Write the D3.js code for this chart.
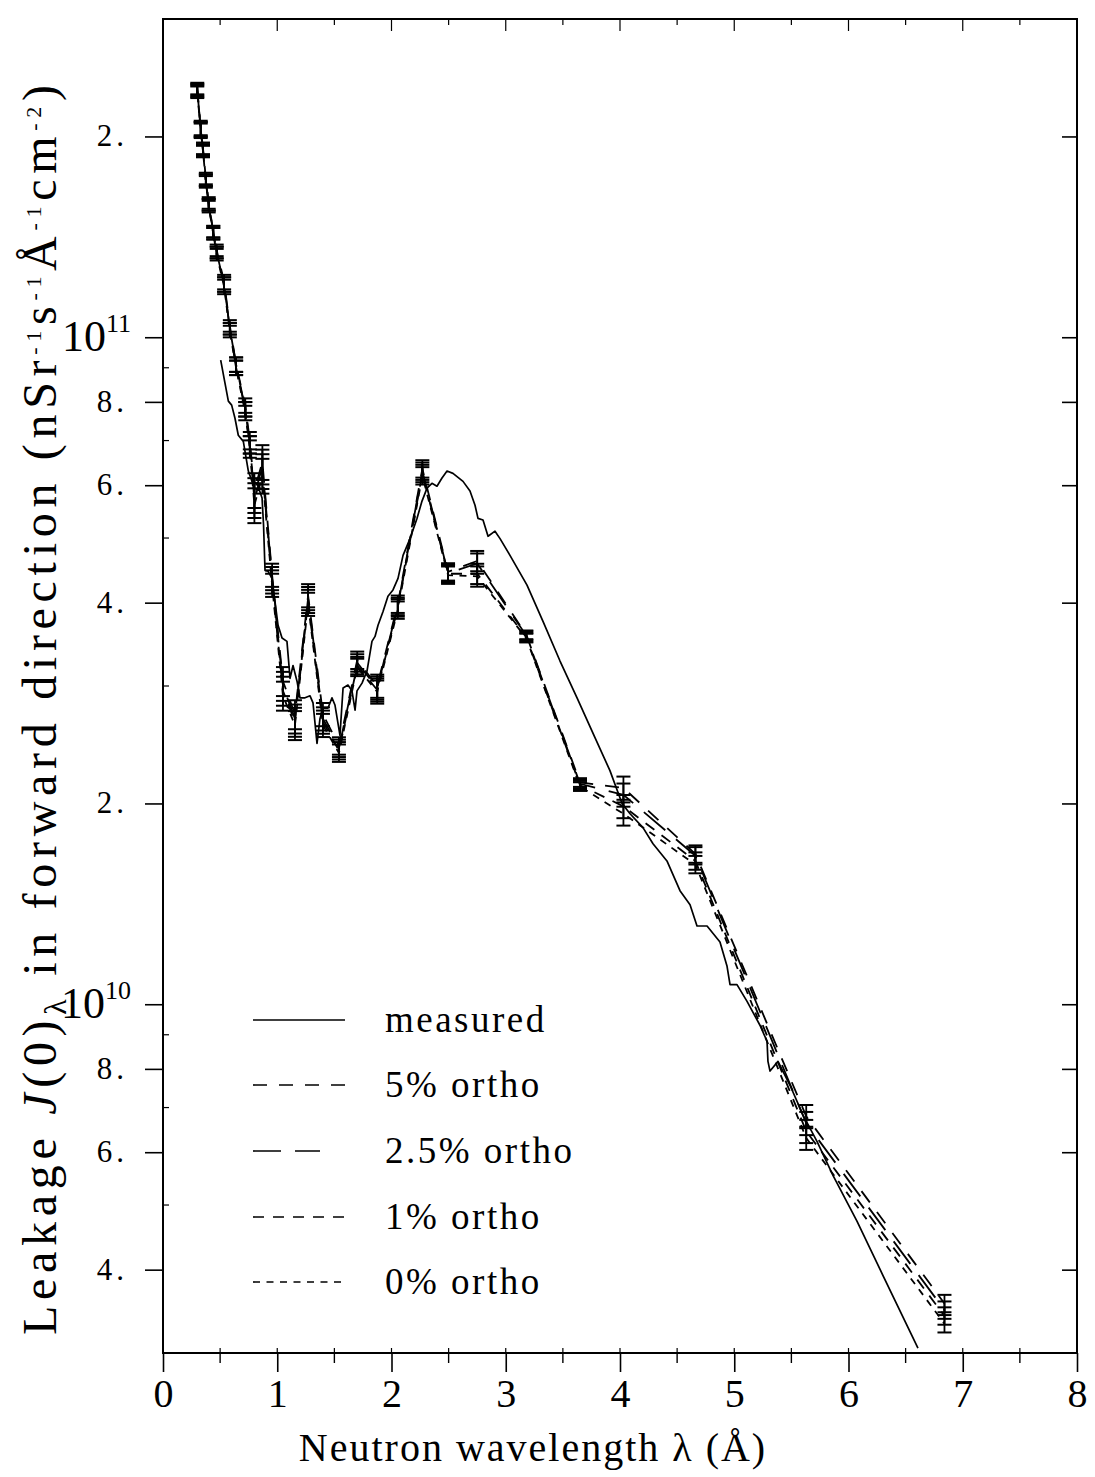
<!DOCTYPE html>
<html>
<head>
<meta charset="utf-8">
<script src="https://cdn.jsdelivr.net/npm/d3@7"></script>
<style>
  body { margin: 0; background: #fff; }
  svg text { font-family: "Liberation Serif", "Times New Roman", serif; fill: #000; }
</style>
</head>
<body>
<div id="chart"></div>
<script>
// values in units of 1e10 n sr^-1 s^-1 A^-1 cm^-2
const lambdaCalc = [0.30, 0.33, 0.35, 0.375, 0.40, 0.44, 0.47, 0.535, 0.585, 0.64,
  0.72, 0.76, 0.80, 0.87, 0.955, 1.05, 1.155, 1.27, 1.40, 1.54,
  1.70, 1.875, 2.055, 2.27, 2.495, 2.75, 3.18, 3.65, 4.03, 4.66,
  5.63, 6.84];
const ortho5 = [23.6, 20.6, 19.2, 17.3, 15.9, 14.4, 13.5, 12.1, 10.4, 9.1,
  7.9, 7.0, 5.9, 6.5, 4.4, 3.05, 2.72, 4.10, 2.72, 2.44,
  3.28, 3.00, 3.98, 6.35, 4.45, 4.62, 3.58, 2.15, 2.11, 1.68,
  0.679, 0.356];
const ortho25 = [23.5, 20.5, 19.1, 17.2, 15.8, 14.4, 13.4, 12.0, 10.3, 9.1,
  7.8, 6.9, 5.8, 6.4, 4.35, 3.0, 2.68, 4.06, 2.68, 2.42,
  3.25, 2.98, 3.95, 6.30, 4.43, 4.58, 3.57, 2.14, 2.06, 1.67,
  0.663, 0.348];
const ortho1 = [23.4, 20.5, 19.0, 17.2, 15.8, 14.3, 13.4, 12.0, 10.3, 9.0,
  7.8, 6.9, 5.7, 6.3, 4.3, 2.95, 2.65, 4.02, 2.65, 2.40,
  3.22, 2.96, 3.93, 6.25, 4.42, 4.42, 3.55, 2.13, 1.98, 1.64,
  0.645, 0.341];
const ortho0 = [23.3, 20.4, 19.0, 17.1, 15.7, 14.3, 13.3, 11.9, 10.2, 9.0,
  7.7, 6.8, 5.6, 6.2, 4.25, 2.9, 2.62, 3.98, 2.62, 2.38,
  3.20, 2.94, 3.90, 6.20, 4.40, 4.38, 3.54, 2.12, 1.93, 1.62,
  0.630, 0.332];
// relative error of the calculated points
const relErr = [0.02, 0.025, 0.02, 0.02, 0.02, 0.02, 0.02, 0.025, 0.02, 0.025,
  0.025, 0.03, 0.06, 0.06, 0.04, 0.05, 0.05, 0.04, 0.04, 0.03,
  0.03, 0.04, 0.03, 0.03, 0.03, 0.035, 0.015, 0.015, 0.04, 0.03,
  0.04, 0.03];

const lambdaMeas = [0.505, 0.543, 0.572, 0.601, 0.630, 0.659, 0.703, 0.747, 0.779, 0.823,
  0.867, 0.880, 0.893, 0.919, 0.954, 1.007, 1.042, 1.085, 1.112, 1.138,
  1.173, 1.199, 1.243, 1.287, 1.313, 1.348, 1.374, 1.400, 1.444, 1.479,
  1.505, 1.549, 1.576, 1.619, 1.654, 1.681, 1.698, 1.742, 1.786, 1.829,
  1.856, 1.882, 1.926, 1.969, 2.013, 2.057, 2.101, 2.162, 2.223, 2.267,
  2.311, 2.354, 2.398, 2.442, 2.486, 2.538, 2.626, 2.687, 2.731, 2.757,
  2.801, 2.845, 2.906, 2.950, 3.037, 3.186, 3.326, 3.475, 3.624, 3.781,
  3.912, 4.018, 4.088, 4.201, 4.289, 4.411, 4.525, 4.613, 4.674, 4.762,
  4.875, 4.937, 4.963, 5.024, 5.112, 5.225, 5.287, 5.295, 5.313, 5.383,
  5.488, 5.602, 5.724, 5.864, 6.074, 6.302, 6.608];
const measured = [9.24, 8.53, 8.02, 7.91, 7.56, 7.13, 6.98, 6.30, 6.08, 6.04,
  5.74, 5.23, 4.47, 4.46, 4.35, 3.70, 3.54, 3.50, 3.08, 3.22,
  3.05, 2.88, 2.88, 2.90, 2.83, 2.46, 2.68, 2.78, 2.78, 2.88,
  2.81, 2.53, 2.98, 3.01, 2.95, 2.76, 2.95, 3.03, 3.16, 3.50,
  3.56, 3.70, 3.88, 4.09, 4.18, 4.35, 4.71, 4.99, 5.35, 5.68,
  5.94, 6.04, 5.98, 6.15, 6.30, 6.25, 6.08, 5.88, 5.60, 5.35,
  5.32, 5.03, 5.12, 4.99, 4.71, 4.25, 3.75, 3.27, 2.88, 2.51,
  2.24, 2.00, 1.93, 1.84, 1.74, 1.64, 1.48, 1.41, 1.31, 1.31,
  1.24, 1.14, 1.07, 1.07, 1.01, 0.930, 0.880, 0.821, 0.794, 0.821,
  0.756, 0.682, 0.623, 0.554, 0.473, 0.392, 0.305];

const xTicks = [0, 1, 2, 3, 4, 5, 6, 7, 8];
const yTickVals = [20, 10, 8, 6, 4, 2, 1, 0.8, 0.6, 0.4];
const yTickLabels = ["2.", "10^11", "8.", "6.", "4.", "2.", "10^10", "8.", "6.", "4."];
const yMinorVals = [30, 9, 7, 5, 3, 0.9, 0.7, 0.5, 0.3];

const seriesNames = ["measured", "5% ortho", "2.5% ortho", "1% ortho", "0% ortho"];
const dashes = [null, "14,12", "28,14", "11,9", "7,6.5"];

const width = 1095, height = 1477;
const plotLeft = 163, plotRight = 1077, plotTop = 19, plotBottom = 1353;

const svg = d3.select("#chart").append("svg")
  .attr("width", width)
  .attr("height", height);

const x = d3.scaleLinear().domain([0, 8]).range([plotLeft, plotRight]);
const y = d3.scaleLog().domain([0.3, 30]).range([plotBottom, plotTop]);

svg.append("clipPath").attr("id", "clip")
  .append("rect")
  .attr("x", plotLeft).attr("y", plotTop)
  .attr("width", plotRight - plotLeft).attr("height", plotBottom - plotTop);

// frame
svg.append("rect")
  .attr("x", plotLeft).attr("y", plotTop)
  .attr("width", plotRight - plotLeft).attr("height", plotBottom - plotTop)
  .attr("fill", "none").attr("stroke", "#000").attr("stroke-width", 2);

// bottom axis: major + minor ticks pointing out
const xAxis = svg.append("g")
  .attr("transform", `translate(0,${plotBottom})`)
  .call(d3.axisBottom(x).tickValues(xTicks).tickSize(19).tickPadding(7).tickFormat(d3.format("d")));
xAxis.select(".domain").remove();
xAxis.selectAll("line").attr("stroke-width", 1.6);
xAxis.selectAll("text")
  .style("font-family", "'Liberation Serif', serif")
  .style("font-size", "40px");

const xMinor = d3.range(0.5, 8, 1);
svg.append("g").selectAll("line").data(xMinor).join("line")
  .attr("x1", d => x(d)).attr("x2", d => x(d))
  .attr("y1", plotBottom).attr("y2", plotBottom + 10)
  .attr("stroke", "#000").attr("stroke-width", 1.4);
// small inner ticks on bottom and top
svg.append("g").selectAll("line").data(d3.range(0.5, 8, 0.5)).join("line")
  .attr("x1", d => x(d)).attr("x2", d => x(d))
  .attr("y1", plotBottom).attr("y2", plotBottom - 5)
  .attr("stroke", "#000").attr("stroke-width", 1.2);
svg.append("g").selectAll("line").data(d3.range(0.5, 8, 0.5)).join("line")
  .attr("x1", d => x(d)).attr("x2", d => x(d))
  .attr("y1", plotTop).attr("y2", d => plotTop + (d % 1 === 0 ? 12 : 6))
  .attr("stroke", "#000").attr("stroke-width", 1.2);

// left axis ticks (outward) and right axis ticks (inward)
const yAxis = svg.append("g")
  .attr("transform", `translate(${plotLeft},0)`)
  .call(d3.axisLeft(y).tickValues(yTickVals).tickSize(18).tickFormat(""));
yAxis.select(".domain").remove();
yAxis.selectAll("line").attr("stroke-width", 1.6);

const yAxisR = svg.append("g")
  .attr("transform", `translate(${plotRight},0)`)
  .call(d3.axisRight(y).tickValues(yTickVals).tickSize(-15).tickFormat(""));
yAxisR.select(".domain").remove();
yAxisR.selectAll("line").attr("stroke-width", 1.6);

svg.append("g").selectAll("line").data(yMinorVals).join("line")
  .attr("x1", plotLeft).attr("x2", plotLeft + 6)
  .attr("y1", d => y(d)).attr("y2", d => y(d))
  .attr("stroke", "#000").attr("stroke-width", 1.2);

// y tick labels
yTickVals.forEach((v, i) => {
  const lab = yTickLabels[i];
  const t = svg.append("text")
    .attr("text-anchor", "end");
  if (lab.startsWith("10^")) {
    t.attr("x", 131).attr("y", y(v) + 14).style("font-size", "44px");
    t.append("tspan").text("10");
    t.append("tspan").attr("dy", -19).style("font-size", "26px").text(lab.slice(3));
  } else {
    t.attr("x", 128).attr("y", y(v) + 10)
      .style("font-size", "31px")
      .style("letter-spacing", "4px")
      .text(lab);
  }
});

// axis titles
svg.append("text")
  .attr("x", 533).attr("y", 1461)
  .attr("text-anchor", "middle")
  .style("font-size", "40px")
  .style("letter-spacing", "2px")
  .text("Neutron wavelength λ (Å)");

const yTitle = svg.append("text")
  .attr("transform", "translate(56,710) rotate(-90)")
  .attr("text-anchor", "middle")
  .attr("textLength", 1250)
  .attr("lengthAdjust", "spacing")
  .style("font-size", "48px");
yTitle.append("tspan").text("Leakage ");
yTitle.append("tspan").style("font-style", "italic").text("J");
yTitle.append("tspan").text("(0)");
yTitle.append("tspan").attr("dy", 10).style("font-size", "32px").text("λ");
yTitle.append("tspan").attr("dy", -10).text(" in forward direction (nSr");
yTitle.append("tspan").attr("dy", -15).style("font-size", "22px").text("-1");
yTitle.append("tspan").attr("dy", 15).text("s");
yTitle.append("tspan").attr("dy", -15).style("font-size", "22px").text("-1");
yTitle.append("tspan").attr("dy", 15).text("Å");
yTitle.append("tspan").attr("dy", -15).style("font-size", "22px").text("-1");
yTitle.append("tspan").attr("dy", 15).text("cm");
yTitle.append("tspan").attr("dy", -15).style("font-size", "22px").text("-2");
yTitle.append("tspan").attr("dy", 15).text(")");

// curves
const plot = svg.append("g").attr("clip-path", "url(#clip)");
const line = d3.line().x(d => x(d[0])).y(d => y(d[1]));

const calcSeries = [ortho5, ortho25, ortho1, ortho0];
calcSeries.forEach((vals, k) => {
  const pts = lambdaCalc.map((l, i) => [l, vals[i]]);
  plot.append("path")
    .datum(pts)
    .attr("d", line)
    .attr("fill", "none")
    .attr("stroke", "#000")
    .attr("stroke-width", 1.8)
    .attr("stroke-dasharray", dashes[k + 1]);

  const bars = plot.append("g").selectAll("g").data(pts).join("g");
  bars.append("line")
    .attr("x1", d => x(d[0])).attr("x2", d => x(d[0]))
    .attr("y1", (d, i) => y(d[1] * (1 + relErr[i])))
    .attr("y2", (d, i) => y(d[1] * (1 - relErr[i])))
    .attr("stroke", "#000").attr("stroke-width", 1.8);
  bars.append("line")
    .attr("x1", d => x(d[0]) - 7).attr("x2", d => x(d[0]) + 7)
    .attr("y1", (d, i) => y(d[1] * (1 + relErr[i])))
    .attr("y2", (d, i) => y(d[1] * (1 + relErr[i])))
    .attr("stroke", "#000").attr("stroke-width", 2);
  bars.append("line")
    .attr("x1", d => x(d[0]) - 7).attr("x2", d => x(d[0]) + 7)
    .attr("y1", (d, i) => y(d[1] * (1 - relErr[i])))
    .attr("y2", (d, i) => y(d[1] * (1 - relErr[i])))
    .attr("stroke", "#000").attr("stroke-width", 2);
});

plot.append("path")
  .datum(lambdaMeas.map((l, i) => [l, measured[i]]))
  .attr("d", line)
  .attr("fill", "none")
  .attr("stroke", "#000")
  .attr("stroke-width", 1.7)
  .attr("stroke-linejoin", "round");

// legend
const legendY = [1020, 1085, 1151, 1217, 1282];
const legendLen = [92, 92, 67, 92, 92];
seriesNames.forEach((name, i) => {
  svg.append("line")
    .attr("x1", 253).attr("x2", 253 + legendLen[i])
    .attr("y1", legendY[i]).attr("y2", legendY[i])
    .attr("stroke", "#000").attr("stroke-width", 1.6)
    .attr("stroke-dasharray", dashes[i]);
  svg.append("text")
    .attr("x", 385).attr("y", legendY[i] + 12)
    .style("font-size", "37px")
    .style("letter-spacing", "2.5px")
    .text(name);
});
</script>
</body>
</html>
